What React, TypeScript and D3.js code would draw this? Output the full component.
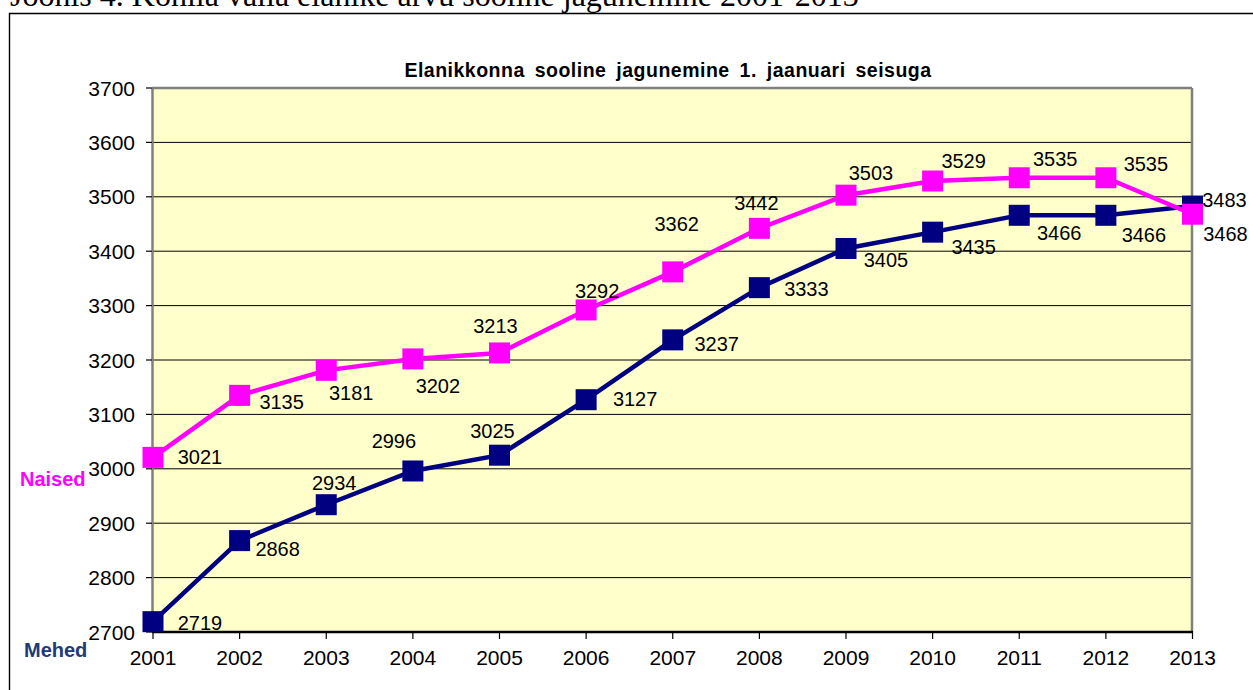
import React from "react";
import * as d3 from "d3";

const years = ["2001","2002","2003","2004","2005","2006","2007","2008","2009","2010","2011","2012","2013"];
const naised = [3021,3135,3181,3202,3213,3292,3362,3442,3503,3529,3535,3535,3468];
const mehed = [2719,2868,2934,2996,3025,3127,3237,3333,3405,3435,3466,3466,3483];
const yTicks = [2700,2800,2900,3000,3100,3200,3300,3400,3500,3600,3700];

// label center offsets relative to each point (layout only)
const naisedLabelDx = [47,42,25,25,-4,11,4,-3,25,31,36,40,33];
const naisedLabelDy = [0,7,23,27,-27,-19,-48,-25,-22,-20,-19,-14,20];
const mehedLabelDx = [47,38,8,-19,-7,49,44,47,40,41,40,38,32];
const mehedLabelDy = [1,8,-22,-30,-24,-1,4,1,12,15,18,20,-6];

const W = 1253, H = 690;
const PL = 152, PR = 1192, PT = 88, PB = 632;
const FONT = "'Liberation Sans', Arial, sans-serif";
const PINK = "#FF00FF";
const NAVY = "#000080";

export default function App() {
  const x = d3.scalePoint<string>().domain(years).range([153, 1192.5]);
  const y = d3.scaleLinear().domain([2700, 3700]).range([PB, PT]);
  const line = d3.line<number>().x((_, i) => x(years[i]) as number).y((d) => y(d));
  const M = 21;

  const series = [
    { name: "Mehed", data: mehed, color: NAVY, dx: mehedLabelDx, dy: mehedLabelDy },
    { name: "Naised", data: naised, color: PINK, dx: naisedLabelDx, dy: naisedLabelDy },
  ];

  return (
    <svg width={W} height={H} style={{ position: "absolute", left: 0, top: 0, background: "#fff" }}>
      <text x={10} y={6} fontFamily="'Liberation Serif', 'Times New Roman', serif" fontSize={32} fill="#000">
        Joonis 4. Kohila valla elanike arvu sooline jagunemine 2001-2013
      </text>
      <path d={`M${W + 5},13.5H9.5V${H + 5}`} fill="none" stroke="#000" strokeWidth={1.4} />

      <text x={668} y={77} textAnchor="middle" fontFamily={FONT} fontWeight="bold" fontSize={19.5} wordSpacing={4} letterSpacing={0.5} fill="#000">
        Elanikkonna sooline jagunemine 1. jaanuari seisuga
      </text>

      <rect x={PL} y={PT} width={PR - PL} height={PB - PT} fill="#FFFFCC" />
      {yTicks.slice(1, -1).map((t) => (
        <line key={t} x1={PL} x2={PR} y1={y(t)} y2={y(t)} stroke="#000" strokeWidth={1} />
      ))}
      <line x1={PL} x2={PR} y1={PT} y2={PT} stroke="#808080" strokeWidth={2.5} />
      <line x1={PR} x2={PR} y1={PT} y2={PB} stroke="#808080" strokeWidth={2.5} />
      <line x1={PL + 0.5} x2={PL + 0.5} y1={PT} y2={PB} stroke="#808080" strokeWidth={2.5} />
      <line x1={PL} x2={PR + 1} y1={PB} y2={PB} stroke="#000" strokeWidth={2.5} />

      {yTicks.map((t) => (
        <g key={t}>
          <line x1={146} x2={PL} y1={y(t)} y2={y(t)} stroke="#000" strokeWidth={1.2} />
          <text x={135} y={y(t) + 7.5} textAnchor="end" fontFamily={FONT} fontSize={21} fill="#000">
            {t}
          </text>
        </g>
      ))}
      {years.map((yr) => (
        <g key={yr}>
          <line x1={x(yr)} x2={x(yr)} y1={PB} y2={PB + 7} stroke="#000" strokeWidth={1.2} />
          <text x={x(yr)} y={665} textAnchor="middle" fontFamily={FONT} fontSize={21} fill="#000">
            {yr}
          </text>
        </g>
      ))}

      {series.map((s) => (
        <g key={s.name}>
          <path d={line(s.data) || ""} fill="none" stroke={s.color} strokeWidth={4.5} />
          {s.data.map((v, i) => (
            <rect key={i} x={(x(years[i]) as number) - M / 2} y={y(v) - M / 2} width={M} height={M} fill={s.color} />
          ))}
        </g>
      ))}
      {series.map((s) =>
        s.data.map((v, i) => (
          <text
            key={s.name + i}
            x={(x(years[i]) as number) + s.dx[i]}
            y={y(v) + s.dy[i] + 7}
            textAnchor="middle"
            fontFamily={FONT}
            fontSize={20}
            fill="#000"
          >
            {v}
          </text>
        ))
      )}

      <text x={20} y={486} fontFamily={FONT} fontWeight="bold" fontSize={20} fill={PINK}>
        Naised
      </text>
      <text x={24} y={657} fontFamily={FONT} fontWeight="bold" fontSize={20} fill="#1F3A78">
        Mehed
      </text>
    </svg>
  );
}
